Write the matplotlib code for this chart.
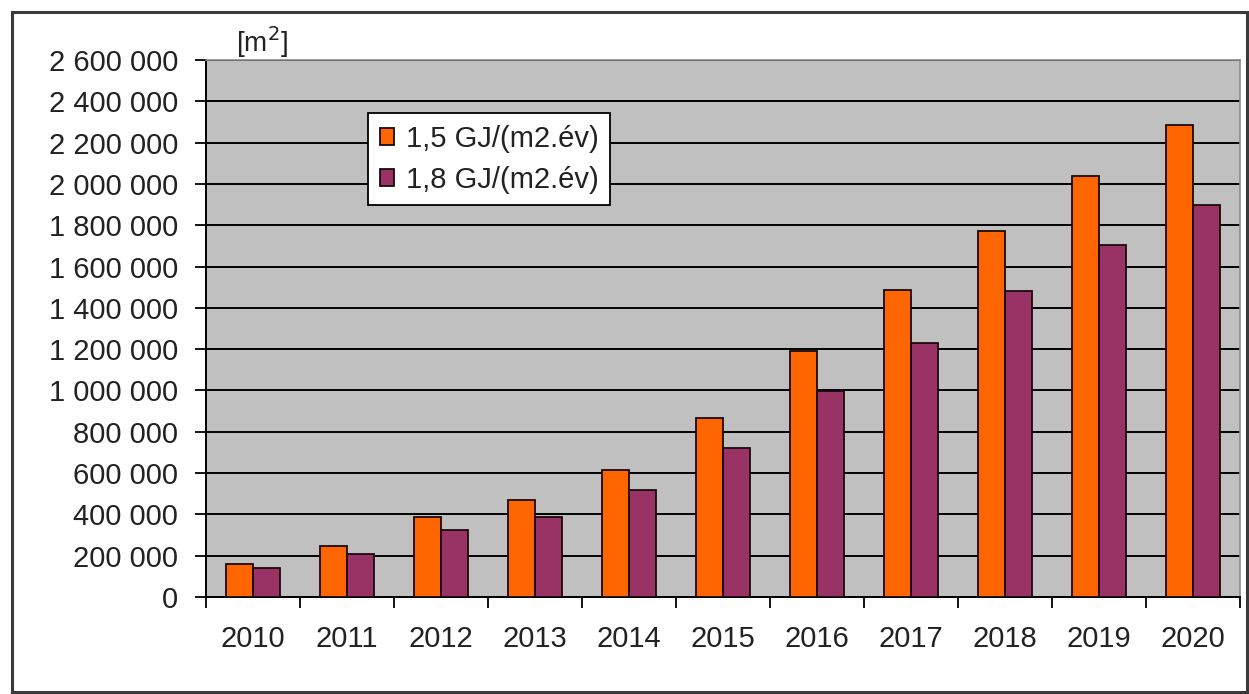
import matplotlib.pyplot as plt
import numpy as np
from matplotlib.ticker import FuncFormatter, MultipleLocator
from matplotlib.patches import Rectangle

plt.rcParams['font.family'] = ['Liberation Sans', 'DejaVu Sans']

years = ['2010', '2011', '2012', '2013', '2014', '2015', '2016', '2017', '2018', '2019', '2020']
area_15 = [160000, 245000, 388000, 469000, 614000, 865000, 1190000, 1484000, 1774000, 2036000, 2286000]
area_18 = [139000, 207000, 324000, 388000, 517000, 719000, 997000, 1230000, 1483000, 1705000, 1900000]
labels = ['1,5 GJ/(m2.év)', '1,8 GJ/(m2.év)']

W, H = 1249, 694
fig = plt.figure(figsize=(W / 100, H / 100), dpi=100)
fig.patch.set_facecolor('white')

# outer frame around the whole chart
fig.patches.append(Rectangle((12 / W, 2 / H), 1235 / W, 680 / H, transform=fig.transFigure,
                             fill=False, edgecolor='#3a3a3a', linewidth=2.2))

ax = fig.add_axes([206 / W, 97 / H, 1034 / W, 537 / H])
ax.set_facecolor('#c0c0c0')

x = np.arange(len(years))
bw = 0.29
ax.bar(x - bw / 2, area_15, width=bw, color='#ff6600', edgecolor='#1a0a0a', linewidth=1.3,
       label=labels[0], zorder=3)
ax.bar(x + bw / 2, area_18, width=bw, color='#993366', edgecolor='#1a0a0a', linewidth=1.3,
       label=labels[1], zorder=3)

ax.set_xlim(-0.5, len(years) - 0.5)
ax.set_ylim(0, 2600000)

ax.yaxis.set_major_locator(MultipleLocator(200000))
ax.yaxis.set_major_formatter(FuncFormatter(lambda v, p: f"{v:,.0f}".replace(',', ' ')))
ax.grid(axis='y', color='black', linewidth=1.4, zorder=1)

ax.set_xticks(x)
ax.set_xticklabels(years)
ax.set_xticks(np.arange(len(years) + 1) - 0.5, minor=True)
ax.tick_params(axis='x', which='major', length=0, pad=20, labelsize=21, labelcolor='#222222')
ax.tick_params(axis='x', which='minor', length=8, width=1.3, color='black')
ax.tick_params(axis='y', length=8, width=1.3, color='black', pad=12, labelsize=21,
               labelcolor='#222222')

for s in ['top', 'right']:
    ax.spines[s].set_color('#8a8a8a')
    ax.spines[s].set_linewidth(1.2)
for s in ['left', 'bottom']:
    ax.spines[s].set_color('black')
    ax.spines[s].set_linewidth(1.4)

fig.text(262 / W, 1 - 42 / H, '[m$^2$]', fontsize=20, color='#222222', ha='center', va='center')

leg = ax.legend(loc='upper left', bbox_to_anchor=(368 / W, 1 - 113 / H), bbox_transform=fig.transFigure,
                borderaxespad=0, fancybox=False, framealpha=1, edgecolor='black', fontsize=21,
                handlelength=0.5, handleheight=0.5, handletextpad=0.4, labelspacing=0.45,
                borderpad=0.4)
leg.get_frame().set_linewidth(1.3)
for t in leg.get_texts():
    t.set_color('#222222')

fig.savefig('out.png', dpi=100)
